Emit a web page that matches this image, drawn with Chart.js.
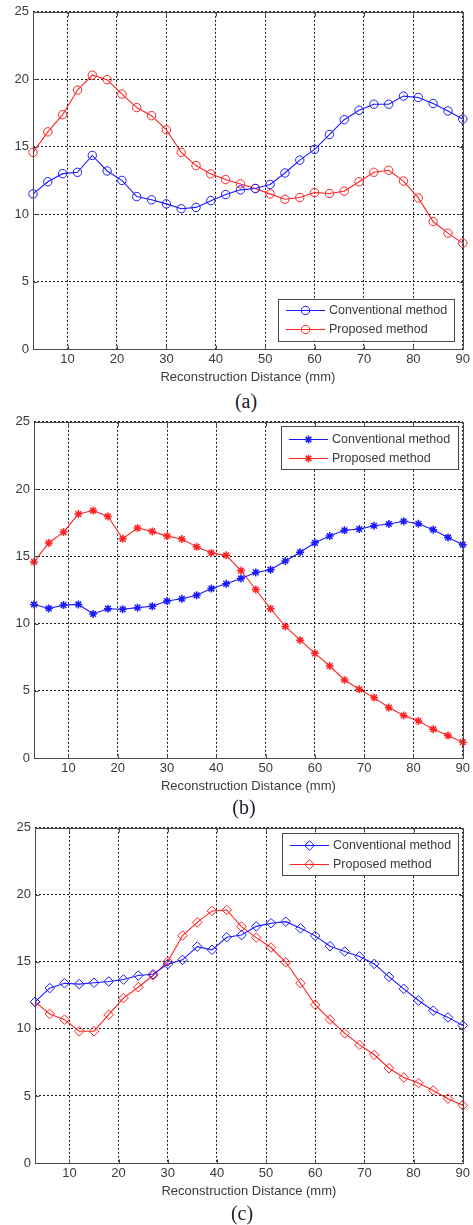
<!DOCTYPE html>
<html>
<head>
<meta charset="utf-8">
<script src="https://cdn.jsdelivr.net/npm/chart.js@4.4.1/dist/chart.umd.min.js"></script>
<style>
html,body{margin:0;padding:0;background:#fff;}
body{width:473px;height:1225px;position:relative;overflow:hidden;}
.wrap{position:absolute;left:0;width:473px;}
.wrap canvas{display:block;}
.cap{position:absolute;font-family:"Liberation Serif","DejaVu Serif",serif;font-size:20px;color:#1c1c2c;transform:translate(-50%,-50%);white-space:nowrap;line-height:1;}
</style>
</head>
<body>
<div class="wrap" style="top:0px"><canvas id="ca" width="473" height="389"></canvas></div>
<div class="cap" style="left:246px;top:401px">(a)</div>
<div class="wrap" style="top:410px"><canvas id="cb" width="473" height="388"></canvas></div>
<div class="cap" style="left:244px;top:807px">(b)</div>
<div class="wrap" style="top:816px"><canvas id="cc" width="473" height="387"></canvas></div>
<div class="cap" style="left:242px;top:1213px">(c)</div>
<script>
// ---- data ----
const distances = [3,6,9,12,15,18,21,24,27,30,33,36,39,42,45,48,51,54,57,60,63,66,69,72,75,78,81,84,87,90];
const xTicks = [10,20,30,40,50,60,70,80,90];
const yTicks = [0,5,10,15,20,25];
const seriesNames = ["Conventional method","Proposed method"];
const xTitle = "Reconstruction Distance (mm)";

const aConventional = [11.5,12.4,13.0,13.1,14.35,13.2,12.5,11.3,11.06,10.76,10.4,10.5,11.0,11.45,11.8,11.9,12.2,13.05,14.0,14.8,15.9,17.0,17.7,18.15,18.15,18.75,18.65,18.2,17.65,17.05];
const aProposed     = [14.58,16.1,17.37,19.2,20.3,19.97,18.9,17.9,17.3,16.25,14.58,13.6,12.98,12.56,12.24,11.9,11.5,11.1,11.23,11.6,11.53,11.7,12.4,13.1,13.25,12.45,11.2,9.45,8.59,7.85];

const bConventional = [11.42,11.12,11.37,11.42,10.71,11.1,11.06,11.18,11.28,11.67,11.84,12.1,12.6,12.95,13.35,13.8,14.0,14.65,15.3,16.0,16.5,16.93,17.02,17.27,17.4,17.6,17.42,16.98,16.4,15.86];
const bProposed     = [14.58,15.99,16.8,18.14,18.4,17.96,16.3,17.1,16.85,16.5,16.28,15.7,15.25,15.07,13.94,12.53,11.1,9.78,8.76,7.78,6.84,5.8,5.11,4.49,3.75,3.16,2.76,2.14,1.67,1.18];

const cConventional = [12.02,13.04,13.41,13.34,13.44,13.54,13.68,13.98,14.08,14.83,15.15,16.14,15.9,16.84,17.0,17.65,17.88,18.0,17.5,16.94,16.17,15.77,15.4,14.85,13.88,12.99,12.12,11.36,10.86,10.25];
const cProposed     = [12.02,11.12,10.69,9.83,9.83,11.06,12.3,13.11,13.98,15.02,16.96,17.95,18.8,18.87,17.63,16.81,16.07,14.97,13.41,11.8,10.7,9.67,8.81,8.07,7.07,6.38,5.96,5.41,4.8,4.3];

// ---- styling ----
const BLUE = "rgb(25,25,255)";
const RED = "rgb(255,35,35)";
const FRAME = "#4a4a4a";
const TXT = "#3a3a3a";
const FONT = {family:'"Liberation Sans", Arial, sans-serif', size:13};

function toPoints(vals){ return vals.map((v,i)=>({x:distances[i], y:v})); }

const framePlugin = {
  id:'frameBox',
  afterDatasetsDraw(chart){
    const ctx = chart.ctx;
    const {left,top,right,bottom} = chart.chartArea;
    const xs = chart.scales.x, ys = chart.scales.y;
    ctx.save();
    ctx.setLineDash([]);
    ctx.strokeStyle = FRAME;
    ctx.lineWidth = 1;
    const L = Math.round(left)+0.5, R = Math.round(right)+0.5, T = Math.round(top)+0.5, B = Math.round(bottom)+0.5;
    ctx.beginPath();
    ctx.rect(L, T, R-L, B-T);
    ctx.stroke();
    ctx.beginPath();
    xTicks.forEach(v=>{
      const px = Math.round(xs.getPixelForValue(v))+0.5;
      ctx.moveTo(px, B); ctx.lineTo(px, B-4);
      ctx.moveTo(px, T); ctx.lineTo(px, T+4);
    });
    yTicks.forEach(v=>{
      const py = Math.round(ys.getPixelForValue(v))+0.5;
      ctx.moveTo(L, py); ctx.lineTo(L+4, py);
      ctx.moveTo(R, py); ctx.lineTo(R-4, py);
    });
    ctx.stroke();
    ctx.restore();
  }
};

const legendPlugin = {
  id:'boxLegend',
  afterDraw(chart, args, opts){
    const ctx = chart.ctx;
    const {x,y,w,h,row0,rowGap} = opts;
    ctx.save();
    ctx.setLineDash([]);
    ctx.fillStyle = '#ffffff';
    ctx.fillRect(x, y, w, h);
    ctx.strokeStyle = FRAME;
    ctx.lineWidth = 1;
    ctx.strokeRect(Math.round(x)+0.5, Math.round(y)+0.5, Math.round(w), Math.round(h));
    chart.data.datasets.forEach((ds,i)=>{
      const ry = Math.round(y + row0 + i*rowGap)+0.5;
      ctx.strokeStyle = ds.borderColor;
      ctx.lineWidth = ds.borderWidth;
      ctx.beginPath(); ctx.moveTo(x+8, ry); ctx.lineTo(x+47, ry); ctx.stroke();
      ctx.fillStyle = 'rgba(0,0,0,0)';
      ctx.strokeStyle = ds.pointBorderColor;
      ctx.lineWidth = ds.pointBorderWidth;
      if (Chart.helpers && Chart.helpers.drawPoint) {
        Chart.helpers.drawPoint(ctx, {pointStyle: ds.pointStyle, radius: ds.pointRadius, borderWidth: ds.pointBorderWidth, rotation: 0}, x+27.5, ry);
      }
      ctx.fillStyle = TXT;
      ctx.font = '12.5px "Liberation Sans", Arial, sans-serif';
      ctx.textBaseline = 'middle';
      ctx.textAlign = 'left';
      ctx.fillText(ds.label, x+51, ry);
    });
    ctx.restore();
  }
};

function makeChart(id, conv, prop, style, radius, pbw, plotLeft, legendBox){
  const mk = (label, vals, color) => ({
    label, data: toPoints(vals),
    borderColor: color, borderWidth: 1.1,
    pointStyle: style, pointRadius: radius, pointHoverRadius: radius,
    pointBorderColor: color, pointBackgroundColor: 'rgba(0,0,0,0)',
    pointBorderWidth: pbw, tension: 0, clip: false, fill: false
  });
  const gridOpts = {color:'#1a1a1a', lineWidth:1, drawTicks:false};
  return new Chart(document.getElementById(id), {
    type:'line',
    data:{datasets:[mk(seriesNames[0], conv, BLUE), mk(seriesNames[1], prop, RED)]},
    options:{
      responsive:false, animation:false, events:[],
      layout:{padding:{top:10, right:10, left:0, bottom:0}},
      plugins:{legend:{display:false}, tooltip:{enabled:false}, boxLegend:legendBox},
      scales:{
        x:{type:'linear', min:3, max:90,
           afterBuildTicks:s=>{ s.ticks = xTicks.map(v=>({value:v})); },
           afterFit:s=>{ s.height = 40; },
           ticks:{font:FONT, color:TXT, padding:3, maxRotation:0, autoSkip:false},
           grid:gridOpts,
           border:{display:false, dash:[2,2]},
           title:{display:true, text:xTitle, font:FONT, color:TXT, padding:{top:0,bottom:4}}
        },
        y:{type:'linear', min:0, max:25,
           afterBuildTicks:s=>{ s.ticks = yTicks.map(v=>({value:v})); },
           afterFit:s=>{ s.width = plotLeft; },
           ticks:{font:FONT, color:TXT, padding:4},
           grid:gridOpts,
           border:{display:false, dash:[2,2]}
        }
      }
    },
    plugins:[framePlugin, legendPlugin]
  });
}

makeChart('ca', aConventional, aProposed, 'circle', 4.2, 1, 33, {x:278, y:298.5, w:176, h:42, row0:11.5, rowGap:19});
makeChart('cb', bConventional, bProposed, 'star', 4, 1.5, 34, {x:281, y:16, w:177, h:43, row0:12.5, rowGap:19});
makeChart('cc', cConventional, cProposed, 'rectRot', 4.8, 1, 35, {x:282, y:16.5, w:176, h:42, row0:12, rowGap:19});
</script>
</body>
</html>
